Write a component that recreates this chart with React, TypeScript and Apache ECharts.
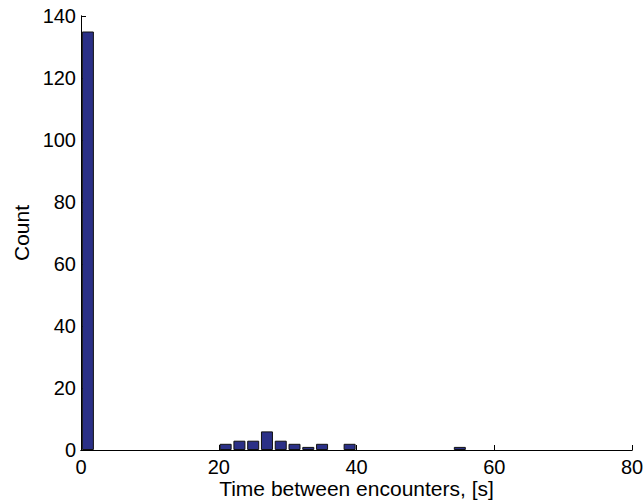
import React, { useEffect, useRef } from "react";
import * as echarts from "echarts";

const binCenters = [1, 21, 23, 25, 27, 29, 31, 33, 35, 39, 55];
const counts = [135, 2, 3, 3, 6, 3, 2, 1, 2, 2, 1];
const xTicks = [0, 20, 40, 60, 80];
const yTicks = [0, 20, 40, 60, 80, 100, 120, 140];

export default function App() {
  const ref = useRef<HTMLDivElement>(null);
  useEffect(() => {
    if (!ref.current) return;
    const chart = echarts.init(ref.current, null, { renderer: "svg" });
    const font = "'Liberation Sans', Arial, Helvetica, sans-serif";
    chart.setOption({
      animation: false,
      backgroundColor: "#ffffff",
      grid: { left: 81, right: 11, top: 16, bottom: 51, outerBoundsMode: "none", containLabel: false },
      xAxis: [
        {
          type: "value",
          min: xTicks[0],
          max: xTicks[xTicks.length - 1],
          interval: 20,
          name: "Time between encounters, [s]",
          nameLocation: "middle",
          nameGap: 27,
          nameMoveOverlap: false,
          nameTextStyle: { fontFamily: font, fontSize: 21, color: "#000", lineHeight: 22 },
          axisLine: { show: true, onZero: false, lineStyle: { color: "#000", width: 1 } },
          axisTick: { show: true, inside: true, length: 5, lineStyle: { color: "#000" } },
          axisLabel: { fontFamily: font, fontSize: 20, color: "#000", margin: 7 },
          splitLine: { show: false },
        },
        {
          type: "value",
          position: "top",
          min: xTicks[0],
          max: xTicks[xTicks.length - 1],
          interval: 20,
          axisLine: { show: true, lineStyle: { color: "#000", width: 1 } },
          axisTick: { show: false },
          axisLabel: { show: false },
          splitLine: { show: false },
        },
      ],
      yAxis: [
        {
          type: "value",
          min: yTicks[0],
          max: yTicks[yTicks.length - 1],
          interval: 20,
          name: "Count",
          nameLocation: "middle",
          nameGap: 49,
          nameMoveOverlap: false,
          nameTextStyle: { fontFamily: font, fontSize: 21, color: "#000" },
          axisLine: { show: true, lineStyle: { color: "#000", width: 1 } },
          axisTick: { show: true, inside: true, length: 5, lineStyle: { color: "#000" } },
          axisLabel: { fontFamily: font, fontSize: 20, color: "#000", margin: 5 },
          splitLine: { show: false },
        },
        {
          type: "value",
          position: "right",
          min: yTicks[0],
          max: yTicks[yTicks.length - 1],
          interval: 20,
          axisLine: { show: true, lineStyle: { color: "#000", width: 1 } },
          axisTick: { show: false },
          axisLabel: { show: false },
          splitLine: { show: false },
        },
      ],
      series: [
        {
          type: "bar",
          xAxisIndex: 0,
          yAxisIndex: 0,
          barWidth: 12,
          data: binCenters.map((c, i) => [c, counts[i]]),
          itemStyle: { color: "#2b3087", borderColor: "#111111", borderWidth: 1 },
        },
      ],
    });
    return () => chart.dispose();
  }, []);
  return (
    <div
      ref={ref}
      style={{ position: "absolute", left: 0, top: 0, width: 643, height: 501 }}
    />
  );
}
